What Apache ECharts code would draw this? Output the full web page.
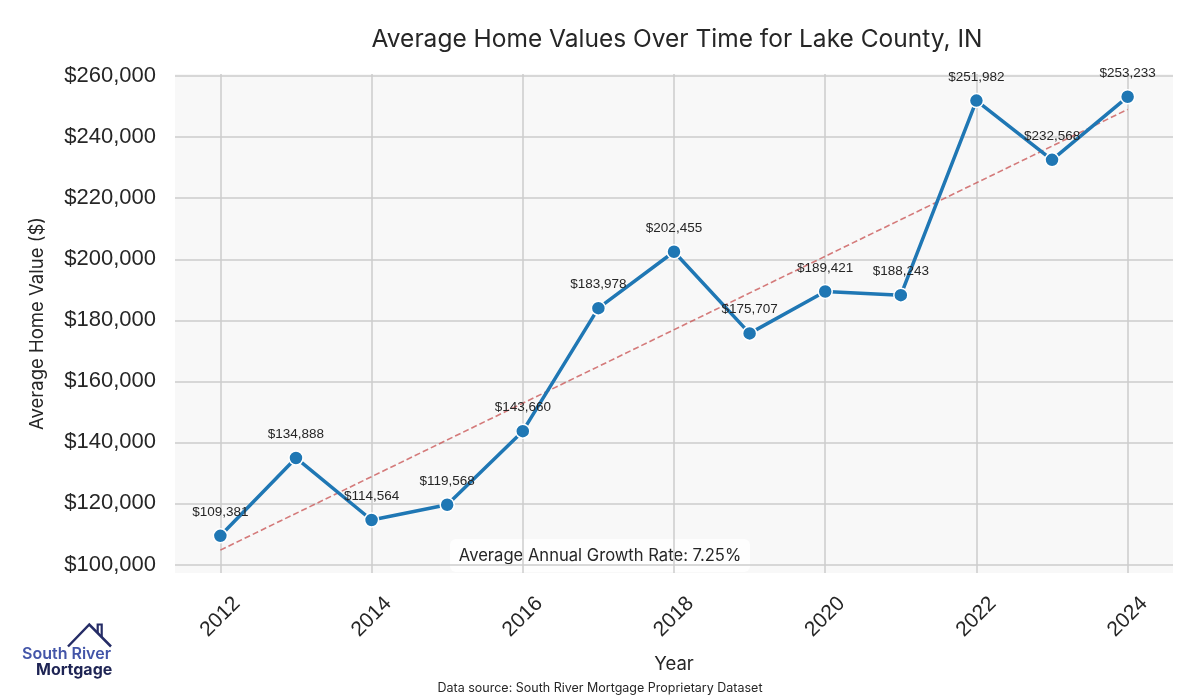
<!DOCTYPE html>
<html>
<head>
<meta charset="utf-8">
<script src="https://cdn.jsdelivr.net/npm/echarts@6/dist/echarts.min.js"></script>
<style>
html,body{margin:0;padding:0;background:#fff;}
#chart{width:1200px;height:700px;}
</style>
</head>
<body>
<div id="chart"></div>
<script>
var years = [2012, 2013, 2014, 2015, 2016, 2017, 2018, 2019, 2020, 2021, 2022, 2023, 2024];
var homeValues = [109381, 134888, 114564, 119568, 143660, 183978, 202455, 175707, 189421, 188243, 251982, 232568, 253233];
var trendYears = [2012, 2024];
var trendValues = [104700, 249100];
var xTicks = [2012, 2014, 2016, 2018, 2020, 2022, 2024];
var yTicks = [100000, 120000, 140000, 160000, 180000, 200000, 220000, 240000, 260000];
var growthRateText = 'Average Annual Growth Rate: 7.25%';

var GEO = 'Inter, "Noto Sans", sans-serif';
var ARIAL = '"Liberation Sans", Arial, sans-serif';

function money(v){ return '$' + Math.round(v).toLocaleString('en-US'); }

var chart = echarts.init(document.getElementById('chart'));
var option = {
  backgroundColor: '#ffffff',
  animation: false,
  title: {
    text: 'Average Home Values Over Time for Lake County, IN',
    left: 672, top: 22, textAlign: 'center',
    textStyle: { fontFamily: GEO, fontSize: 24.5, fontWeight: 'normal', color: '#262626' }
  },
  grid: { left: 175, right: 27, top: 74, bottom: 127, show: true, backgroundColor: '#f8f8f8', borderWidth: 0 },
  xAxis: {
    type: 'value', min: 2011.4, max: 2024.6,
    name: 'Year', nameLocation: 'middle', nameGap: 82,
    nameTextStyle: { fontFamily: GEO, fontSize: 18.5, color: '#262626' },
    axisLine: { show: false },
    axisTick: { show: false, customValues: xTicks },
    axisLabel: {
      customValues: xTicks, rotate: 45, margin: 44, align: 'center', verticalAlign: 'middle',
      fontFamily: ARIAL, fontSize: 21, color: '#262626',
      formatter: function(v){ return String(v); }
    },
    splitLine: { show: true, lineStyle: { color: '#cccccc', width: 1.5 } }
  },
  yAxis: {
    type: 'value', min: 97200, max: 260700,
    name: 'Average Home Value ($)', nameLocation: 'middle', nameGap: 128, nameRotate: 90,
    nameTextStyle: { fontFamily: GEO, fontSize: 18.5, color: '#262626' },
    axisLine: { show: false },
    axisTick: { show: false, customValues: yTicks },
    axisLabel: {
      customValues: yTicks, margin: 19,
      fontFamily: ARIAL, fontSize: 22, color: '#262626',
      formatter: function(v){ return money(v); }
    },
    splitLine: { show: true, lineStyle: { color: '#cccccc', width: 1.5 } }
  },
  series: [
    {
      type: 'line',
      data: trendYears.map(function(y, i){ return [y, trendValues[i]]; }),
      showSymbol: false, symbol: 'none', z: 2,
      lineStyle: { color: 'rgba(200,80,80,0.75)', width: 1.6, type: [6, 3] }
    },
    {
      type: 'line',
      data: years.map(function(y, i){ return [y, homeValues[i]]; }),
      symbol: 'circle', symbolSize: 14, z: 3,
      lineStyle: { color: '#1f77b4', width: 3.5 },
      itemStyle: { color: '#1f77b4', borderColor: '#ffffff', borderWidth: 1.5 },
      label: {
        show: true, position: 'top', distance: 9,
        fontFamily: ARIAL, fontSize: 13.5, color: '#262626',
        formatter: function(p){ return money(p.value[1]); }
      }
    }
  ],
  graphic: [
    {
      type: 'group', left: 450, top: 539, z: 100,
      children: [
        { type: 'rect', shape: { x: 0, y: 0, width: 300, height: 33, r: 6 }, style: { fill: 'rgba(255,255,255,0.85)' } },
        { type: 'text', x: 150, y: 16.5, style: { text: growthRateText, fontFamily: GEO, fontSize: 16.6, fill: '#262626', align: 'center', verticalAlign: 'middle' } }
      ]
    },
    {
      type: 'text', left: 'center', top: 682,
      style: { text: 'Data source: South River Mortgage Proprietary Dataset', fontFamily: GEO, fontSize: 12.5, fill: '#262626' }
    },
    {
      type: 'group', left: 22, top: 622, z: 100,
      children: [
        { type: 'polyline', shape: { points: [[46, 24], [67.3, 2], [89, 24]] }, style: { stroke: '#252c66', lineWidth: 2.5, fill: null, lineJoin: 'miter' } },
        { type: 'polyline', shape: { points: [[75.7, 10.5], [75.7, 2], [79.7, 2], [79.7, 14.6]] }, style: { stroke: '#252c66', lineWidth: 2.2, fill: null } },
        { type: 'text', x: 0, y: 24, style: { text: 'South River', fontFamily: GEO, fontSize: 16, fontWeight: 600, fill: '#4355a8' } },
        { type: 'text', x: 14, y: 40, style: { text: 'Mortgage', fontFamily: GEO, fontSize: 16, fontWeight: 700, fill: '#1e2454' } }
      ]
    }
  ]
};
chart.setOption(option);
</script>
</body>
</html>
